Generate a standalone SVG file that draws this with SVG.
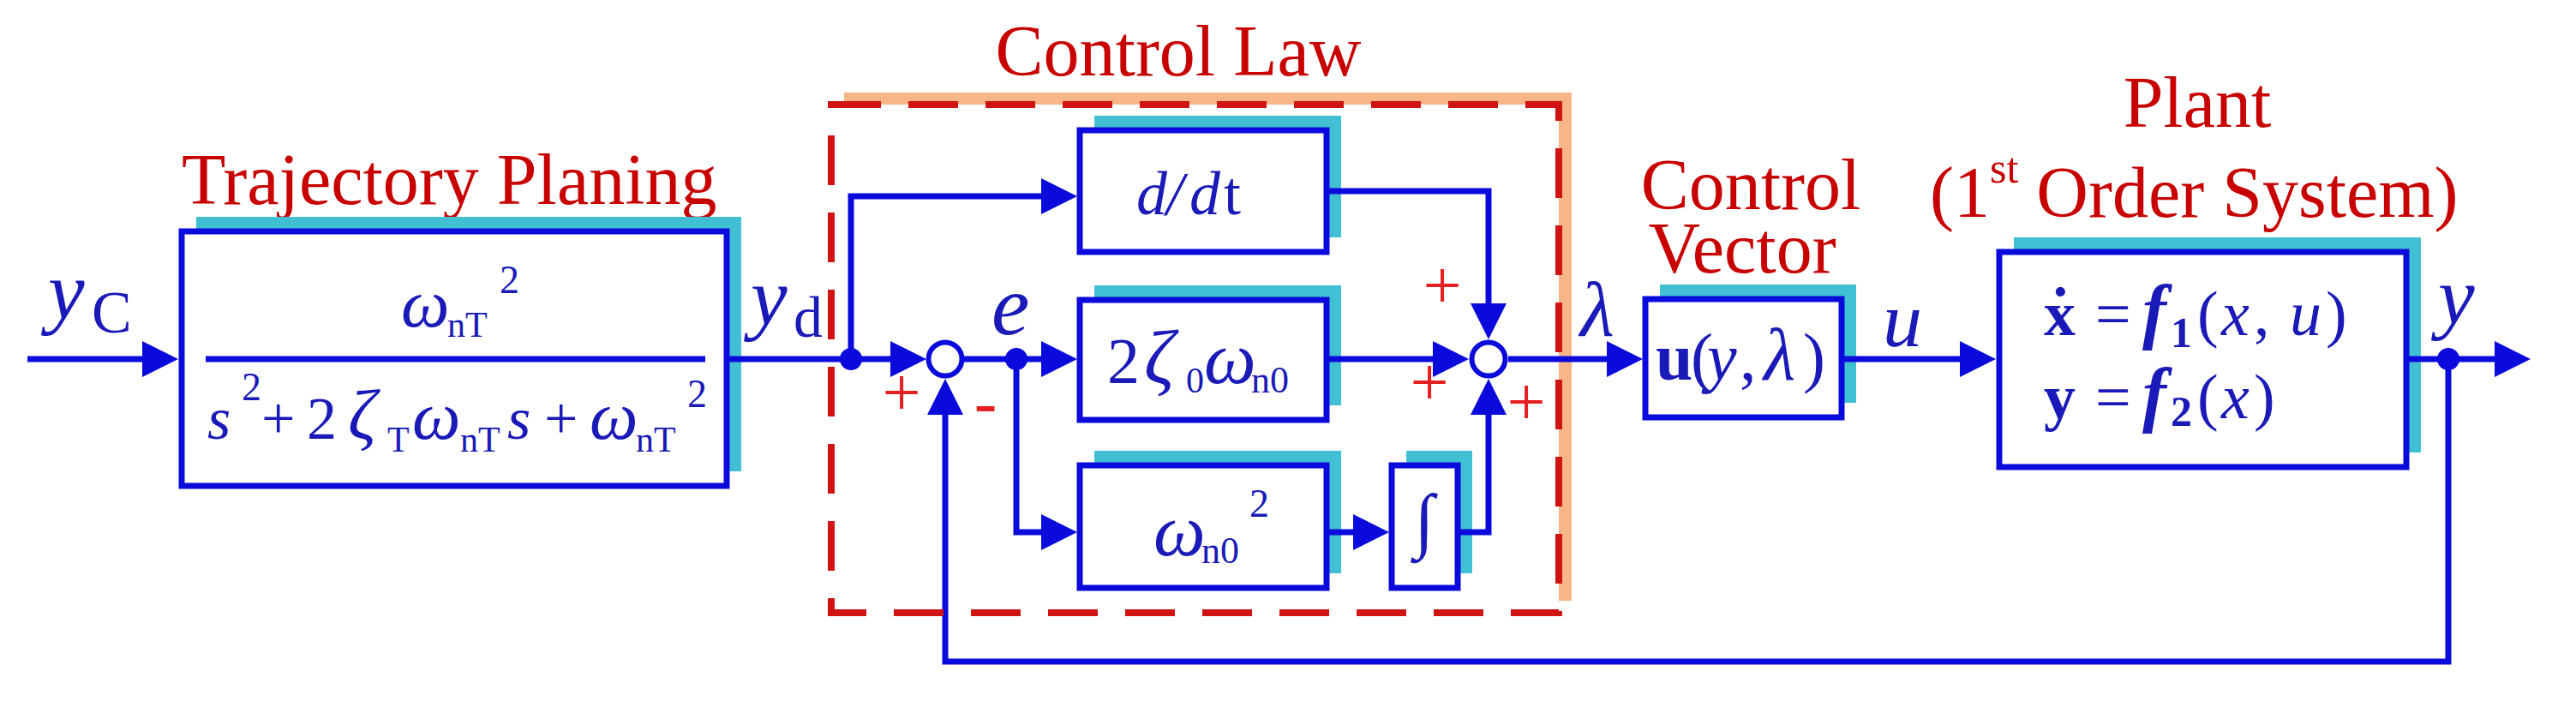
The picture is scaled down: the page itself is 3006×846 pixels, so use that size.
<svg xmlns="http://www.w3.org/2000/svg" width="3006" height="846" viewBox="0 0 3006 846">
<style>
.t{font-family:"Liberation Serif","Times New Roman",serif}
.title{fill:#C80000;font-size:84px}
.m{fill:#1A1AB8}
.i{font-style:italic}
.b{font-weight:bold}
.sign{fill:#E42020;font-size:80px;text-anchor:middle}
.box{fill:#fff;stroke:#0A0ADC;stroke-width:7}
.sh{fill:#40C0D2}
.wire{fill:none;stroke:#0A0ADC;stroke-width:7}
.arr{fill:none;stroke:#0A0ADC;stroke-width:7;marker-end:url(#ah)}
.dot{fill:#0A0ADC}
.sum{fill:#fff;stroke:#0A0ADC;stroke-width:6}
</style>
<defs>
<marker id="ah" viewBox="0 0 42 42" refX="34" refY="21" markerWidth="42" markerHeight="42" markerUnits="userSpaceOnUse" orient="auto">
<path d="M0,0 L42,21 L0,42 Z" fill="#0A0ADC"/>
</marker>
</defs>
<rect width="3006" height="846" fill="#fff"/>

<!-- Control Law frame (background) -->
<g id="control-law-bg">
<rect x="985" y="108" width="849" height="593" fill="#F8B586"/>
<rect x="970" y="122" width="849" height="593" fill="#fff"/>
</g>

<!-- Trajectory planning block -->
<g id="trajectory">
<text class="t title" x="212" y="238">Trajectory Planing</text>
<rect class="sh" x="229" y="253" width="636" height="297"/>
<rect class="box" x="212" y="270" width="636" height="297"/>
<line x1="240" y1="419" x2="823" y2="419" stroke="#0A0ADC" stroke-width="7"/>
<text class="t m" font-size="70"><tspan class="i" x="468" y="381" font-size="80">ω</tspan><tspan x="522" y="393" font-size="42">nT</tspan><tspan x="583" y="342" font-size="46">2</tspan></text>
<text class="t m" font-size="70"><tspan class="i" x="242" y="512">s</tspan><tspan x="282" y="467" font-size="46">2</tspan><tspan x="305" y="512">+</tspan><tspan x="358" y="512">2</tspan><tspan class="i" x="406" y="512" font-size="82">ζ</tspan><tspan x="452" y="527" font-size="42">T</tspan><tspan class="i" x="481" y="512" font-size="80">ω</tspan><tspan x="537" y="527" font-size="42">nT</tspan><tspan class="i" x="592" y="512">s</tspan><tspan x="635" y="512">+</tspan><tspan class="i" x="688" y="512" font-size="80">ω</tspan><tspan x="742" y="527" font-size="42">nT</tspan><tspan x="802" y="475" font-size="46">2</tspan></text>
</g>

<!-- d/dt block -->
<g id="derivative">
<rect class="sh" x="1277" y="135" width="288" height="142"/>
<rect class="box" x="1260" y="152" width="288" height="142"/>
<text class="t m" font-size="72"><tspan class="i" x="1326" y="250">d</tspan><tspan class="i" x="1361" y="250">/</tspan><tspan class="i" x="1388" y="250">d</tspan><tspan x="1428" y="250">t</tspan></text>
</g>

<!-- 2 zeta omega block -->
<g id="gain-p">
<rect class="sh" x="1277" y="333" width="288" height="140"/>
<rect class="box" x="1260" y="350" width="288" height="140"/>
<text class="t m" font-size="76"><tspan x="1292" y="447">2</tspan><tspan class="i" x="1335" y="447" font-size="88">ζ</tspan><tspan x="1384" y="458" font-size="42">0</tspan><tspan class="i" x="1405" y="447" font-size="86">ω</tspan><tspan x="1460" y="458" font-size="44">n0</tspan></text>
</g>

<!-- omega^2 block -->
<g id="gain-i">
<rect class="sh" x="1277" y="526" width="288" height="143"/>
<rect class="box" x="1260" y="543" width="288" height="143"/>
<text class="t m" font-size="76"><tspan class="i" x="1346" y="648" font-size="86">ω</tspan><tspan x="1402" y="657" font-size="44">n0</tspan><tspan x="1458" y="603" font-size="46">2</tspan></text>
</g>

<!-- integrator block -->
<g id="integrator">
<rect class="sh" x="1641" y="526" width="77" height="143"/>
<rect class="box" x="1624" y="543" width="77" height="143"/>
<text class="t m" font-size="84" x="1662" y="635" text-anchor="middle">∫</text>
</g>

<!-- Control vector block -->
<g id="control-vector">
<text class="t title" text-anchor="middle" font-size="83"><tspan x="2043" y="244">Control</tspan><tspan x="2033" y="318">Vector</tspan></text>
<rect class="sh" x="1937" y="332" width="229" height="138"/>
<rect class="box" x="1920" y="349" width="229" height="138"/>
<text class="t m" font-size="78"><tspan class="b" x="1932" y="443">u</tspan><tspan x="1973" y="443">(</tspan><tspan class="i" x="1992" y="443">y</tspan><tspan x="2030" y="443">,</tspan><tspan class="i" x="2058" y="443" font-size="86">λ</tspan><tspan x="2104" y="443">)</tspan></text>
</g>

<!-- Plant block -->
<g id="plant">
<text class="t title" x="2564" y="148" text-anchor="middle" font-size="100">Plant</text>
<text class="t title" x="2252" y="253" font-size="84">(1<tspan font-size="50" dy="-40">st</tspan><tspan dy="40"> Order System)</tspan></text>
<rect class="sh" x="2350" y="277" width="475" height="251"/>
<rect class="box" x="2333" y="294" width="475" height="251"/>
<text class="t m" font-size="74"><tspan class="b" x="2392" y="386">˙</tspan><tspan class="b" x="2385" y="391">x</tspan><tspan x="2445" y="391">=</tspan><tspan class="b i" x="2500" y="391" font-size="84">f</tspan><tspan class="b" x="2533" y="405" font-size="50">1</tspan><tspan x="2564" y="391">(</tspan><tspan class="i" x="2592" y="391">x</tspan><tspan x="2630" y="391">,</tspan><tspan class="i" x="2672" y="391">u</tspan><tspan x="2714" y="391">)</tspan></text>
<text class="t m" font-size="74"><tspan class="b" x="2385" y="488">y</tspan><tspan x="2445" y="488">=</tspan><tspan class="b i" x="2500" y="488" font-size="84">f</tspan><tspan class="b" x="2533" y="497" font-size="50">2</tspan><tspan x="2564" y="488">(</tspan><tspan class="i" x="2592" y="488">x</tspan><tspan x="2630" y="488">)</tspan></text>
</g>

<!-- Connectors -->
<g id="connectors">
<path class="arr" d="M32,419 H200"/>
<path class="arr" d="M848,419 H1073"/>
<path class="arr" d="M993,419 V229 H1249"/>
<path class="arr" d="M1125,419 H1249"/>
<path class="arr" d="M1186,419 V621 H1249"/>
<path class="arr" d="M1548,223 H1737 V388"/>
<path class="arr" d="M1548,419 H1706"/>
<path class="arr" d="M1548,621 H1613"/>
<path class="arr" d="M1701,621 H1737 V450"/>
<path class="arr" d="M1760,419 H1909"/>
<path class="arr" d="M2149,419 H2321"/>
<path class="arr" d="M2808,419 H2945"/>
<path class="arr" d="M2857,419 V772 H1103 V450"/>
<circle class="dot" cx="993" cy="419" r="13"/>
<circle class="dot" cx="1186" cy="419" r="13"/>
<circle class="dot" cx="2857" cy="419" r="13"/>
</g>

<!-- Summing junctions -->
<g id="sum1">
<circle class="sum" cx="1103" cy="419" r="19.5"/>
<text class="t sign" x="1052" y="485">+</text>
<text class="t sign" x="1150" y="496">-</text>
</g>
<g id="sum2">
<circle class="sum" cx="1737" cy="419" r="19.5"/>
<text class="t sign" x="1683" y="360">+</text>
<text class="t sign" x="1668" y="473">+</text>
<text class="t sign" x="1781" y="496">+</text>
</g>

<!-- Control Law frame (dashed outline and title) -->
<g id="control-law">
<text class="t title" x="1375" y="88" text-anchor="middle" font-size="82">Control Law</text>
<rect x="970" y="122" width="849" height="593" fill="none" stroke="#D01414" stroke-width="8" stroke-dasharray="58 32"/>
</g>

<!-- Signal labels -->
<g id="signal-labels">
<text class="t m" font-size="96"><tspan class="i" x="56" y="372">y</tspan><tspan x="107" y="388" font-size="70">C</tspan></text>
<text class="t m" font-size="96"><tspan class="i" x="876" y="379">y</tspan><tspan x="926" y="393" font-size="68">d</tspan></text>
<text class="t m i" font-size="100" x="1157" y="390">e</text>
<text class="t m i" font-size="92" x="1844" y="392">λ</text>
<text class="t m i" font-size="92" x="2197" y="404">u</text>
<text class="t m i" font-size="96" x="2845" y="378">y</text>
</g>
</svg>
